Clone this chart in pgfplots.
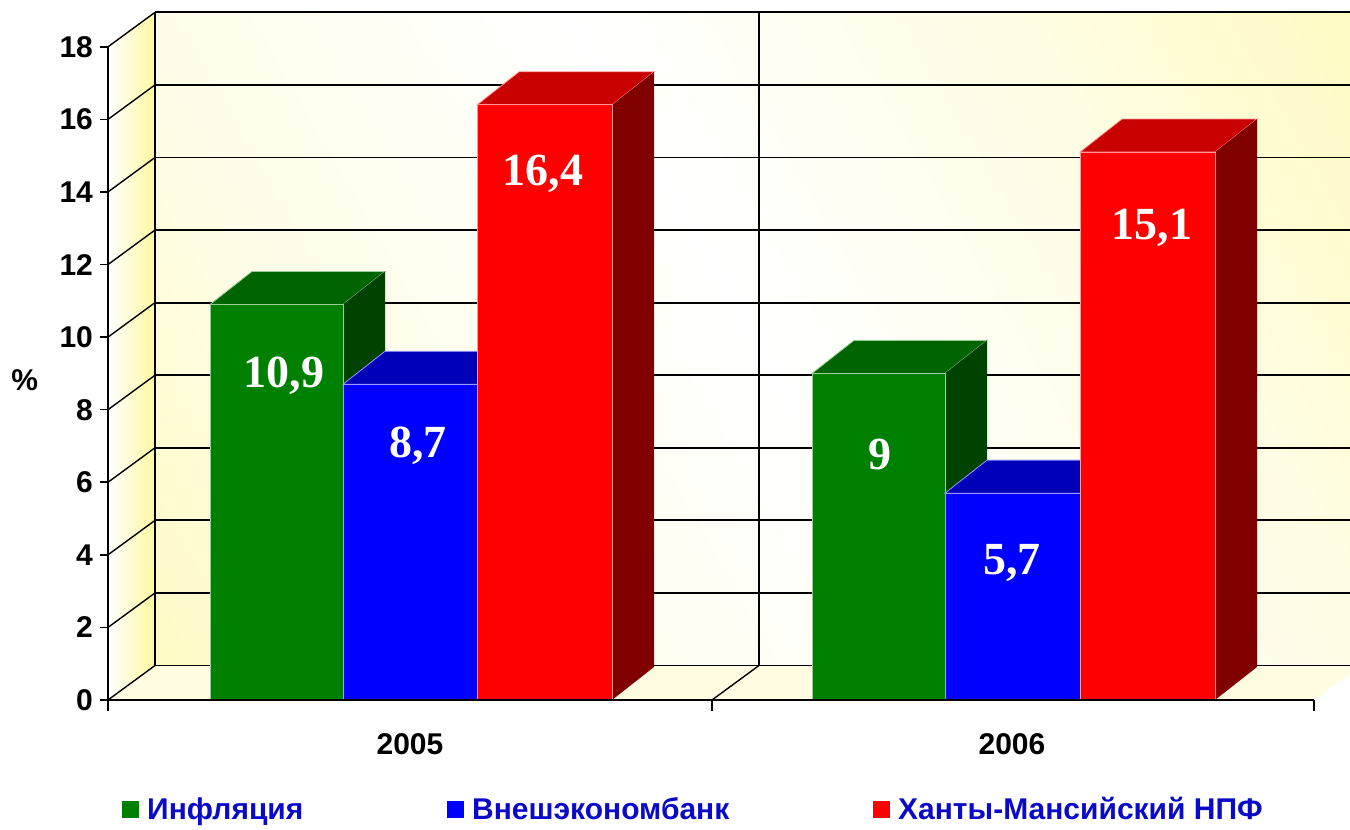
\documentclass[border=0pt]{standalone}
\usepackage{fontspec}
\setmainfont{Liberation Sans}
\newfontfamily\serifb{Liberation Serif}
\usepackage{pgfplots}
\pgfplotsset{compat=1.18}
\definecolor{gF}{RGB}{0,128,0}
\definecolor{gT}{RGB}{0,100,0}
\definecolor{gS}{RGB}{0,66,0}
\definecolor{bF}{RGB}{0,0,255}
\definecolor{bT}{RGB}{0,0,185}
\definecolor{bS}{RGB}{0,0,120}
\definecolor{rF}{RGB}{255,0,0}
\definecolor{rT}{RGB}{200,0,0}
\definecolor{rS}{RGB}{128,0,0}
\definecolor{legblue}{RGB}{10,10,200}
\definecolor{wallY}{RGB}{255,248,160}
\definecolor{floorY}{RGB}{255,252,225}
\pgfdeclarehorizontalshading{wallshade}{100bp}{color(0bp)=(wallY); color(30bp)=(wallY!25!white); color(50bp)=(white); color(70bp)=(wallY!30!white); color(100bp)=(wallY)}
\begin{document}
\begin{tikzpicture}
\begin{axis}[
  name=ax,
  width=621pt, height=350pt, scale only axis,
  xmin=108, xmax=1350, ymin=0, ymax=19.29,
  clip=false,
  axis lines*=left,
  axis line style={draw=none},
  ytick={0,2,...,18},
  xtick={410,1012}, xticklabels={2005,2006},
  xtick style={draw=none},
  ytick style={black, line width=0.8pt},
  tick align=outside, major tick length=4pt,
  /pgf/number format/assume math mode=true,
  tick label style={font=\bfseries\fontsize{15}{15}\selectfont},
  xticklabel style={anchor=base, yshift=-23pt},
  ylabel={\%},
  ylabel style={rotate=-90, at={(rel axis cs:-0.067,0.457)}, anchor=center, font=\bfseries\fontsize{15}{15}\selectfont},
  legend columns=3,
  legend cell align=left,
  legend image code/.code={\fill[#1] (0pt,-4pt) rectangle (8pt,4pt);},
  legend style={at={(axis description cs:0.0113,-0.157)}, anchor=west, draw=none, fill=none, inner sep=0pt,
    font=\bfseries\fontsize{15}{15}\selectfont,
    /tikz/every odd column/.append style={column sep=2pt},
    /tikz/every even column/.append style={column sep=70pt}},
]
% walls and floor
\addplot[forget plot, draw=none, shade, shading=wallshade, shading angle=30] coordinates {(155,0.95) (1357,0.95) (1357,18.95) (155,18.95)} -- cycle;
\addplot[forget plot, draw=none, left color=white, right color=wallY] coordinates {(108,0) (155,0.95) (155,18.95) (108,18)} -- cycle;
\addplot[forget plot, draw=none, fill=floorY] coordinates {(108,0) (1314,0) (1361,0.95) (155,0.95)} -- cycle;
% back wall grid
\addplot[forget plot, black, line width=0.9pt, unbounded coords=jump] coordinates {
(155,0.95) (1357,0.95) (nan,nan)
(155,2.95) (1357,2.95) (nan,nan)
(155,4.95) (1357,4.95) (nan,nan)
(155,6.95) (1357,6.95) (nan,nan)
(155,8.95) (1357,8.95) (nan,nan)
(155,10.95) (1357,10.95) (nan,nan)
(155,12.95) (1357,12.95) (nan,nan)
(155,14.95) (1357,14.95) (nan,nan)
(155,16.95) (1357,16.95) (nan,nan)
(155,18.95) (1357,18.95) (nan,nan)
(155,0.95) (155,18.95) (nan,nan)
(759,0.95) (759,18.95)
};
% side wall and floor slants
\addplot[forget plot, black, line width=0.7pt, unbounded coords=jump] coordinates {
(108,0) (155,0.95) (nan,nan)
(108,2) (155,2.95) (nan,nan)
(108,4) (155,4.95) (nan,nan)
(108,6) (155,6.95) (nan,nan)
(108,8) (155,8.95) (nan,nan)
(108,10) (155,10.95) (nan,nan)
(108,12) (155,12.95) (nan,nan)
(108,14) (155,14.95) (nan,nan)
(108,16) (155,16.95) (nan,nan)
(108,18) (155,18.95) (nan,nan)
(712,0) (759,0.95)
};
% ---- 2005 ----
% Inflation 10.9
\addplot[forget plot, fill=gT, draw=gF!40!white, line width=0.4pt] coordinates {(210,10.9) (343,10.9) (385,11.81) (252,11.81)} -- cycle;
\addplot[forget plot, fill=gS, draw=none] coordinates {(343,0) (385,0.91) (385,11.81) (343,10.9)} -- cycle;
\addplot[forget plot, fill=gF, draw=gF!40!white, line width=0.4pt] coordinates {(210,0) (343,0) (343,10.9) (210,10.9)} -- cycle;
% VEB 8.7
\addplot[forget plot, fill=bT, draw=bF!40!white, line width=0.4pt] coordinates {(343,8.7) (477,8.7) (519,9.61) (385,9.61)} -- cycle;
\addplot[forget plot, fill=bS, draw=none] coordinates {(477,0) (519,0.91) (519,9.61) (477,8.7)} -- cycle;
\addplot[forget plot, fill=bF, draw=bF!40!white, line width=0.4pt] coordinates {(343,0) (477,0) (477,8.7) (343,8.7)} -- cycle;
% NPF 16.4
\addplot[forget plot, fill=rT, draw=rF!40!white, line width=0.4pt] coordinates {(477,16.4) (612,16.4) (654,17.31) (519,17.31)} -- cycle;
\addplot[forget plot, fill=rS, draw=none] coordinates {(612,0) (654,0.91) (654,17.31) (612,16.4)} -- cycle;
\addplot[forget plot, fill=rF, draw=rF!40!white, line width=0.4pt] coordinates {(477,0) (612,0) (612,16.4) (477,16.4)} -- cycle;
% ---- 2006 ----
% Inflation 9
\addplot[forget plot, fill=gT, draw=gF!40!white, line width=0.4pt] coordinates {(812,9) (945,9) (987,9.91) (854,9.91)} -- cycle;
\addplot[forget plot, fill=gS, draw=none] coordinates {(945,0) (987,0.91) (987,9.91) (945,9)} -- cycle;
\addplot[forget plot, fill=gF, draw=gF!40!white, line width=0.4pt] coordinates {(812,0) (945,0) (945,9) (812,9)} -- cycle;
% VEB 5.7
\addplot[forget plot, fill=bT, draw=bF!40!white, line width=0.4pt] coordinates {(945,5.7) (1080,5.7) (1122,6.61) (987,6.61)} -- cycle;
\addplot[forget plot, fill=bS, draw=none] coordinates {(1080,0) (1122,0.91) (1122,6.61) (1080,5.7)} -- cycle;
\addplot[forget plot, fill=bF, draw=bF!40!white, line width=0.4pt] coordinates {(945,0) (1080,0) (1080,5.7) (945,5.7)} -- cycle;
% NPF 15.1
\addplot[forget plot, fill=rT, draw=rF!40!white, line width=0.4pt] coordinates {(1080,15.1) (1215,15.1) (1257,16.01) (1122,16.01)} -- cycle;
\addplot[forget plot, fill=rS, draw=none] coordinates {(1215,0) (1257,0.91) (1257,16.01) (1215,15.1)} -- cycle;
\addplot[forget plot, fill=rF, draw=rF!40!white, line width=0.4pt] coordinates {(1080,0) (1215,0) (1215,15.1) (1080,15.1)} -- cycle;
% front axes
\addplot[forget plot, black, line width=0.9pt, unbounded coords=jump] coordinates {
(108,0) (108,18) (nan,nan)
(108,0) (1314,0) (nan,nan)
(108,0) (108,-0.3) (nan,nan)
(712,0) (712,-0.3) (nan,nan)
(1314,0) (1314,-0.3)
};
% value labels
\addplot[forget plot, only marks, mark=none, point meta=explicit symbolic, nodes near coords,
  every node near coord/.append style={anchor=base, inner sep=0pt, text=white, font=\serifb\bfseries\fontsize{23}{23}\selectfont}]
  table[meta=lab] {
x y lab
284 8.60 10,9
418 6.67 8,7
543 14.19 16,4
880 6.34 9
1012 3.45 5,7
1152 12.68 15,1
};
% legend
\addlegendimage{gF}
\addlegendentry{\textcolor{legblue}{Инфляция}}
\addlegendimage{bF}
\addlegendentry{\textcolor{legblue}{Внешэкономбанк}}
\addlegendimage{rF}
\addlegendentry{\textcolor{legblue}{Ханты-Мансийский НПФ}}
\end{axis}
\pgfresetboundingbox
\path (-54pt,-65pt) rectangle (621pt,350pt);
\end{tikzpicture}
\end{document}
